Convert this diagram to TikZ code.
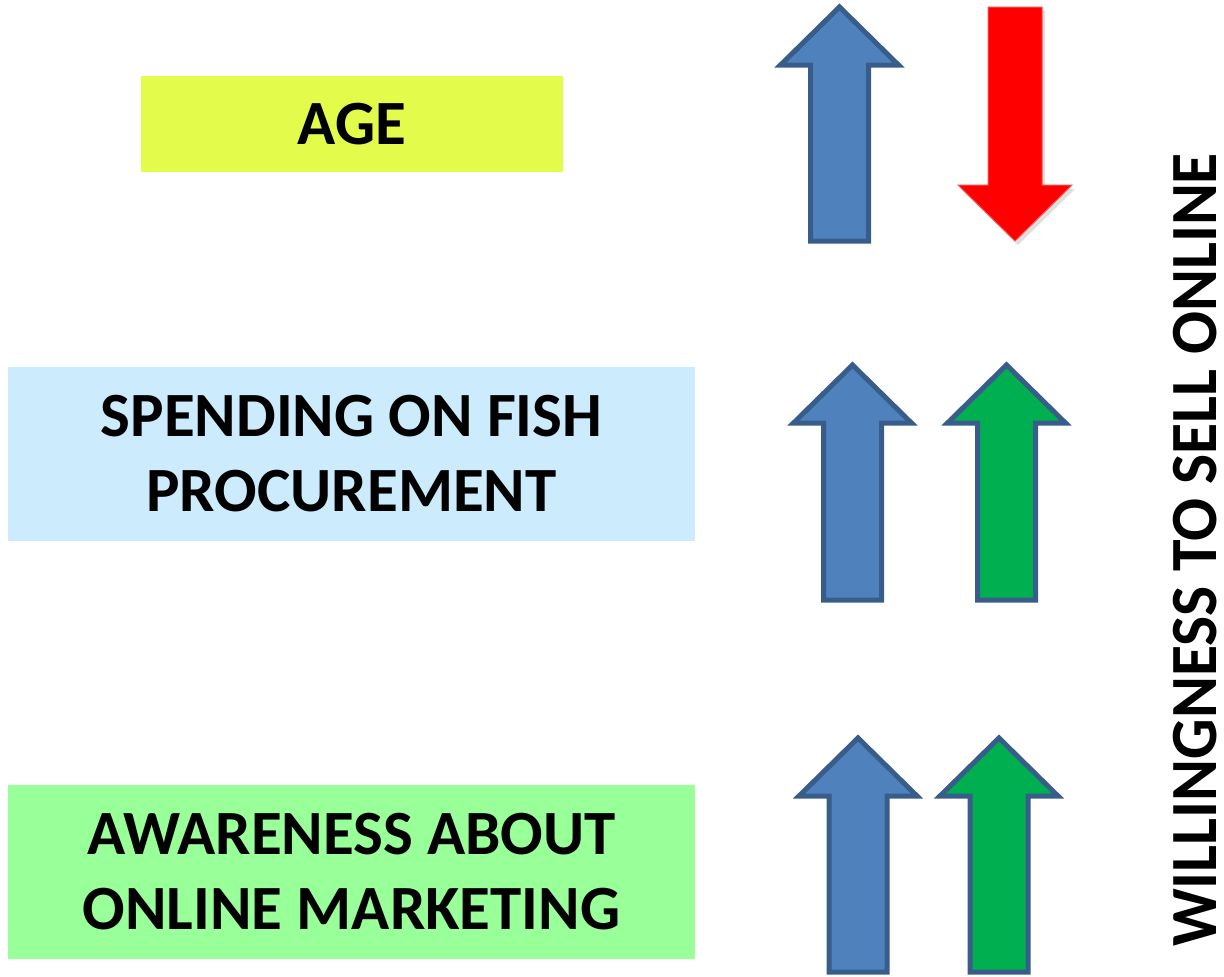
\documentclass[tikz,border=0pt]{standalone}
\usepackage{fontspec}
\setmainfont{Carlito}
\usetikzlibrary{shadows}

\definecolor{agecol}{HTML}{E3FC4B}
\definecolor{spendcol}{HTML}{CCEBFC}
\definecolor{awarecol}{HTML}{99FF99}
\definecolor{upblue}{HTML}{4F81BD}
\definecolor{edgeblue}{HTML}{385D8A}
\definecolor{upgreen}{HTML}{00B050}

% arrows: centre x, tip/top y, foot/tip y, fill
\newcommand{\arrowup}[4]{%
  \draw[arrowline, fill=#4] (#1,#2) -- (#1+59,#2+58) -- (#1+29,#2+58) -- (#1+29,#3)
    -- (#1-29,#3) -- (#1-29,#2+58) -- (#1-59,#2+58) -- cycle;
}
\newcommand{\arrowdown}[4]{%
  \draw[downline, fill=#4] (#1-27,#2) -- (#1+27,#2) -- (#1+27,#3-56) -- (#1+57,#3-56)
    -- (#1,#3) -- (#1-57,#3-56) -- (#1-27,#3-56) -- cycle;
}

\begin{document}
\begin{tikzpicture}[x=1pt, y=-1pt,
    arrowline/.style={draw=edgeblue, line width=5pt, line join=miter},
    downline/.style={draw=red!70!white, line width=1pt,
      drop shadow={shadow xshift=3pt, shadow yshift=-4pt, opacity=0.25}},
    factorbox/.style={inner sep=0pt, align=center,
      font=\fontsize{63}{75}\selectfont\bfseries}]
  \useasboundingbox (0,0) rectangle (1224,977);

  % factors on the left
  \node[factorbox, fill=agecol, minimum width=422, minimum height=96] (age) at (352,124) {AGE};
  \node[factorbox, fill=spendcol, minimum width=687, minimum height=174] (spend) at (351.5,454)
    {SPENDING ON FISH\\PROCUREMENT};
  \node[factorbox, fill=awarecol, minimum width=687, minimum height=174] (aware) at (351.5,872)
    {AWARENESS ABOUT\\ONLINE MARKETING};

  % effect arrows
  \arrowup{839.5}{7}{241}{upblue}
  \arrowdown{1015}{7}{241}{red}

  \arrowup{852.5}{365}{600}{upblue}
  \arrowup{1006.5}{365}{600}{upgreen}

  \arrowup{858}{738}{972}{upblue}
  \arrowup{999}{738}{972}{upgreen}

  % outcome
  \node[rotate=90, inner sep=0pt, font=\fontsize{66}{76}\selectfont\bfseries] (willing) at (1195,550)
    {\scalebox{0.965}[1]{WILLINGNESS TO SELL ONLINE}};
\end{tikzpicture}
\end{document}
